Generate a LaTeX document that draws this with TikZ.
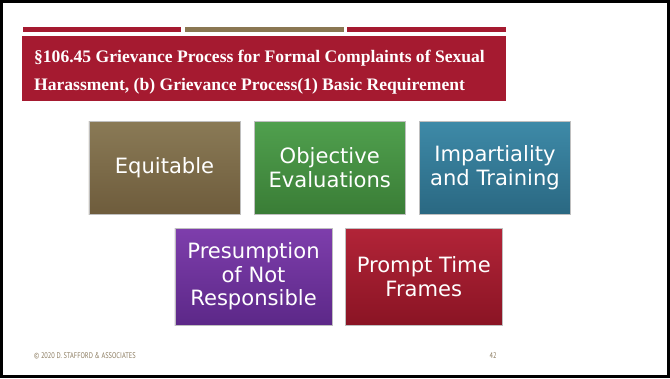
\documentclass[tikz,border=0pt]{standalone}
\usepackage{fontspec}
\setmainfont{Liberation Serif}
\newfontfamily\tilefont{DejaVu Sans}
\newfontfamily\footfont[FakeStretch=0.78]{PT Sans}
\usetikzlibrary{positioning}

\definecolor{slidered}{HTML}{A51A30}
\definecolor{slidebrown}{HTML}{8A7752}
\definecolor{footgray}{HTML}{8A7A5E}

\tikzset{
  tile/.style={rectangle, align=center, text=white, draw=black!25, very thin,
    font=\tilefont\fontsize{18}{20}\selectfont},
  toprow/.style={tile, minimum width=4.53cm, minimum height=2.79cm},
  botrow/.style={tile, minimum width=4.71cm, minimum height=2.91cm}
}

\begin{document}
\begin{tikzpicture}[x=0.03cm,y=-0.03cm]
\useasboundingbox (0,0) rectangle (670,378);
\draw[black,line width=0.09cm] (1.5,1.5) rectangle (668.5,376);

% bars above the title
\fill[slidered] (23,27) rectangle (181,32);
\fill[slidebrown] (185,27) rectangle (344,32);
\fill[slidered] (347,27) rectangle (506,32);

% title
\fill[slidered] (22,36) rectangle (506,101);
\node[anchor=west,text=white,align=left,font=\bfseries\fontsize{15}{24}\selectfont] (title) at (30,72)
  {\S106.45 Grievance Process for Formal Complaints of Sexual\\Harassment, (b) Grievance Process(1) Basic Requirement};

% first row
\node[toprow,top color={rgb,255:red,138;green,122;blue,86},bottom color={rgb,255:red,110;green,92;blue,60}]
  (equit) at (164.5,167.5) {Equitable};
\node[toprow,right=0.42cm of equit,top color={rgb,255:red,80;green,160;blue,78},bottom color={rgb,255:red,58;green,125;blue,54}]
  (object) {Objective\\Evaluations};
\node[toprow,right=0.42cm of object,top color={rgb,255:red,62;green,138;blue,168},bottom color={rgb,255:red,42;green,104;blue,130}]
  (impart) {Impartiality\\and Training};

% second row
\node[botrow,top color={rgb,255:red,126;green,62;blue,172},bottom color={rgb,255:red,92;green,40;blue,136}]
  (presum) at (253.5,276.5) {Presumption\\of Not\\Responsible};
\node[botrow,right=0.39cm of presum,top color={rgb,255:red,178;green,36;blue,56},bottom color={rgb,255:red,138;green,20;blue,36}]
  (prompt) {Prompt Time\\Frames};

% footer
\node[anchor=west,text=footgray,font=\footfont\fontsize{7}{8}\selectfont] (copy) at (30,356) {\textcopyright{} 2020 D. STAFFORD \& ASSOCIATES};
\node[text=footgray,font=\footfont\fontsize{7}{8}\selectfont] (page) at (493,356) {42};

\end{tikzpicture}
\end{document}
